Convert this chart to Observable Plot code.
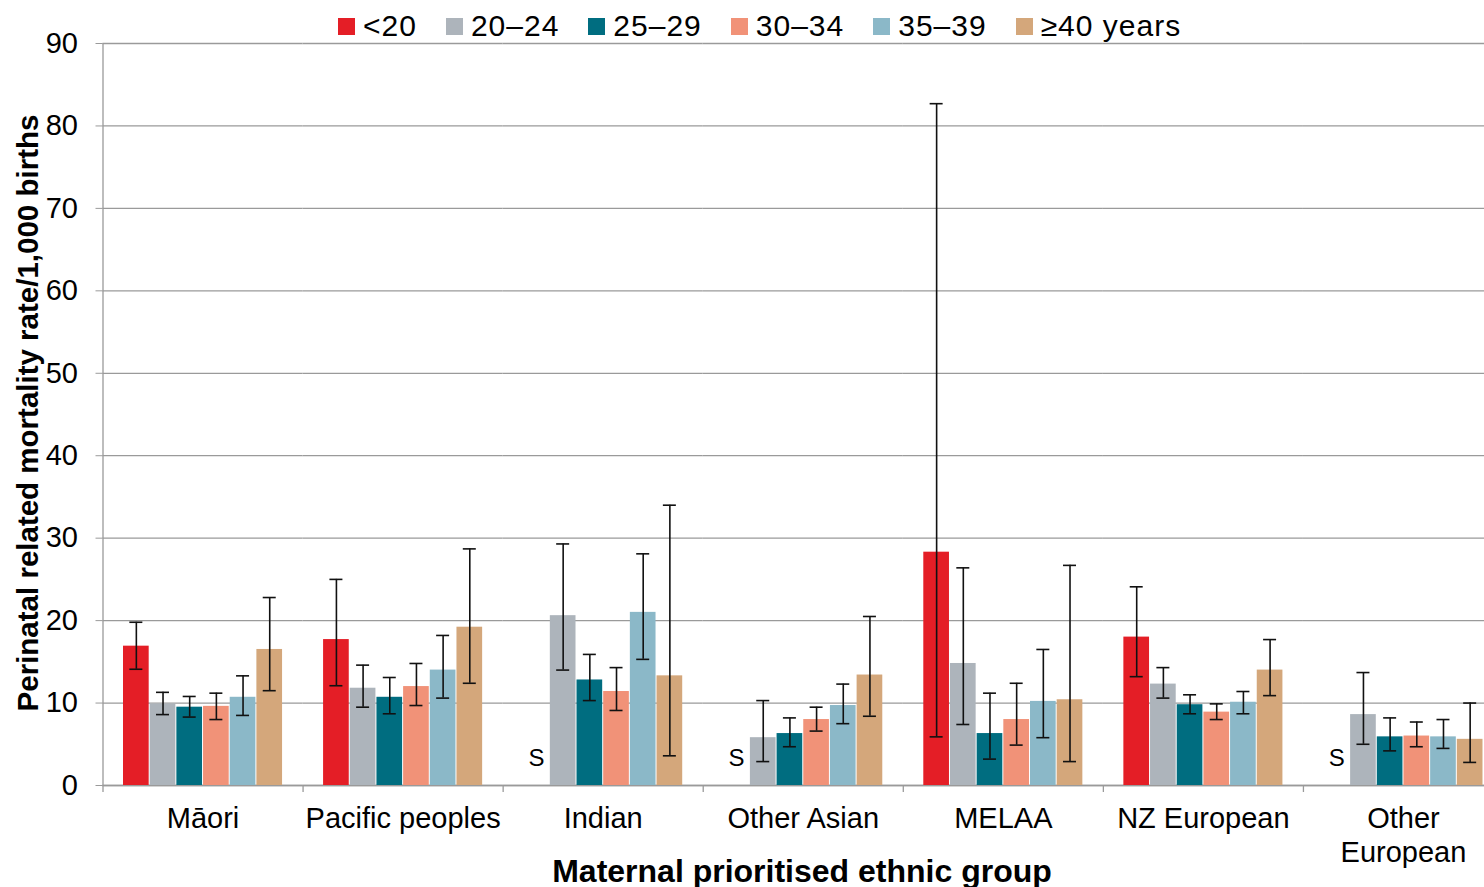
<!DOCTYPE html>
<html>
<head>
<meta charset="utf-8">
<script src="https://cdn.jsdelivr.net/npm/d3@7"></script>
<script src="https://cdn.jsdelivr.net/npm/@observablehq/plot@0.6"></script>
<style>
  html, body { margin: 0; padding: 0; background: white; overflow: hidden; }
  body { width: 1484px; height: 887px; font-family: "Liberation Sans", Arial, sans-serif; color: black; }
  #wrap { position: relative; width: 1503px; height: 887px; }
  #legend { position: absolute; left: 338px; top: 9px; height: 34px; display: flex; align-items: center; font-size: 30px; line-height: 1; letter-spacing: 1px; }
  .item { display: flex; align-items: center; margin-right: 29px; }
  .sw { width: 17px; height: 17px; margin-right: 8px; }
  #ytitle { position: absolute; left: 28px; top: 413px; transform: translate(-50%, -50%) rotate(-90deg); white-space: nowrap; font-weight: bold; font-size: 29.5px; }
  #xtitle { position: absolute; left: 802px; top: 871px; transform: translate(-50%, -50%); white-space: nowrap; font-weight: bold; font-size: 32px; }
</style>
</head>
<body>
<div id="wrap">
  <div id="chart"></div>
  <div id="legend"></div>
  <div id="ytitle">Perinatal related mortality rate/1,000 births</div>
  <div id="xtitle">Maternal prioritised ethnic group</div>
</div>
<script>
// ---- Data ----
const groups = ["Māori", "Pacific peoples", "Indian", "Other Asian", "MELAA", "NZ European", "Other\nEuropean"];
const ages = ["<20", "20–24", "25–29", "30–34", "35–39", "≥40 years"];
const colors = ["#E41E26", "#ADB4BB", "#006D80", "#F19278", "#8BB8C8", "#D4A77B"];
const yTicks = [0, 10, 20, 30, 40, 50, 60, 70, 80, 90];

// rates per age group, across ethnic groups (null = suppressed "S")
const rateLt20  = [16.9, 17.7, null, null, 28.3, 18.0, null];
const rate20_24 = [9.9, 11.8, 20.6, 5.8, 14.8, 12.3, 8.6];
const rate25_29 = [9.5, 10.7, 12.8, 6.3, 6.3, 9.8, 5.9];
const rate30_34 = [9.6, 12.0, 11.4, 8.0, 8.0, 8.9, 6.0];
const rate35_39 = [10.7, 14.0, 21.0, 9.7, 10.2, 10.1, 5.9];
const rate40    = [16.5, 19.2, 13.3, 13.4, 10.4, 14.0, 5.6];

// lower / upper 95% confidence limits
const loLt20  = [14.1, 12.1, null, null, 5.9, 13.2, null];
const hiLt20  = [19.8, 25.0, null, null, 82.7, 24.1, null];
const lo20_24 = [8.6, 9.5, 14.0, 2.9, 7.4, 10.6, 5.0];
const hi20_24 = [11.3, 14.6, 29.3, 10.3, 26.4, 14.3, 13.7];
const lo25_29 = [8.3, 8.7, 10.3, 4.7, 3.2, 8.7, 4.2];
const hi25_29 = [10.8, 13.1, 15.9, 8.2, 11.2, 11.0, 8.2];
const lo30_34 = [8.0, 9.7, 9.1, 6.6, 4.9, 8.0, 4.7];
const hi30_34 = [11.2, 14.8, 14.3, 9.5, 12.4, 9.9, 7.7];
const lo35_39 = [8.5, 10.6, 15.3, 7.5, 5.8, 8.7, 4.5];
const hi35_39 = [13.3, 18.2, 28.1, 12.3, 16.5, 11.4, 8.0];
const lo40    = [11.5, 12.4, 3.6, 8.4, 2.9, 10.9, 2.8];
const hi40    = [22.8, 28.7, 34.0, 20.5, 26.7, 17.7, 10.0];

const rates = [rateLt20, rate20_24, rate25_29, rate30_34, rate35_39, rate40];
const lows  = [loLt20, lo20_24, lo25_29, lo30_34, lo35_39, lo40];
const highs = [hiLt20, hi20_24, hi25_29, hi30_34, hi35_39, hi40];

const rows = [];
groups.forEach((g, gi) => {
  ages.forEach((a, ai) => {
    rows.push({group: g, age: a, value: rates[ai][gi], lo: lows[ai][gi], hi: highs[ai][gi]});
  });
});
const shown = rows.filter(d => d.value != null);
const suppressed = rows.filter(d => d.value == null);

// ---- Layout ----
const W = 1503, H = 887, ML = 102.5, MR = 0, MT = 43, MB = 102;
const padOuter = 0.75;
const groupWidth = (W - ML - MR) / groups.length;
const step = groupWidth / (ages.length + 2 * padOuter);
const edgeOffset = step * (0.5 + padOuter);
const capInset = (step - 13) / 2;
const grey = "#9a9a9a";
const ink = "#111";

const chart = Plot.plot({
  width: W, height: H,
  marginLeft: ML, marginRight: MR, marginTop: MT, marginBottom: MB,
  style: "font-family: 'Liberation Sans', Arial, sans-serif; color: black; background: white; max-width: none; overflow: visible;",
  fx: {domain: groups, padding: 0, round: false},
  x: {domain: ages, paddingInner: 0, paddingOuter: padOuter, round: false, axis: null},
  y: {domain: [0, 90]},
  color: {domain: ages, range: colors},
  marks: [
    Plot.gridY(yTicks, {stroke: grey, strokeOpacity: 1, strokeWidth: 1.3}),
    Plot.ruleY([0], {stroke: grey, strokeWidth: 1.3}),
    Plot.barY(shown, {fx: "group", x: "age", y: "value", fill: "age", insetLeft: 0.5, insetRight: 0.5}),
    Plot.ruleX(shown, {fx: "group", x: "age", y1: "lo", y2: "hi", stroke: ink, strokeWidth: 1.6}),
    Plot.tickY(shown, {fx: "group", x: "age", y: "hi", stroke: ink, strokeWidth: 1.6, insetLeft: capInset, insetRight: capInset}),
    Plot.tickY(shown, {fx: "group", x: "age", y: "lo", stroke: ink, strokeWidth: 1.6, insetLeft: capInset, insetRight: capInset}),
    Plot.text(suppressed, {fx: "group", x: "age", y: () => 0, text: () => "S", dy: -27, fontSize: 24, fill: "black"}),
    // group boundary ticks below the axis
    Plot.ruleX(groups, {fx: d => d, x: () => ages[0], dx: -edgeOffset, y1: () => 0, y2: () => 0, insetBottom: -7, stroke: grey, strokeWidth: 1.3}),
    // y axis line
    Plot.ruleX([groups[0]], {fx: d => d, x: () => ages[0], dx: -edgeOffset, y1: () => 0, y2: () => 90, stroke: grey, strokeWidth: 1.3}),
    Plot.axisY({ticks: yTicks, tickSize: 7, tickPadding: 18, stroke: grey, fill: "black", fontSize: 29, label: null}),
    Plot.axisFx({anchor: "bottom", tickSize: 0, tickPadding: 18, fontSize: 29, lineHeight: 1.18, label: null, fill: "black"})
  ]
});
document.getElementById("chart").appendChild(chart);

// ---- Legend ----
const legend = document.getElementById("legend");
ages.forEach((a, i) => {
  const item = document.createElement("div");
  item.className = "item";
  const sw = document.createElement("div");
  sw.className = "sw";
  sw.style.background = colors[i];
  const label = document.createElement("span");
  label.textContent = a;
  item.appendChild(sw);
  item.appendChild(label);
  legend.appendChild(item);
});
</script>
</body>
</html>
